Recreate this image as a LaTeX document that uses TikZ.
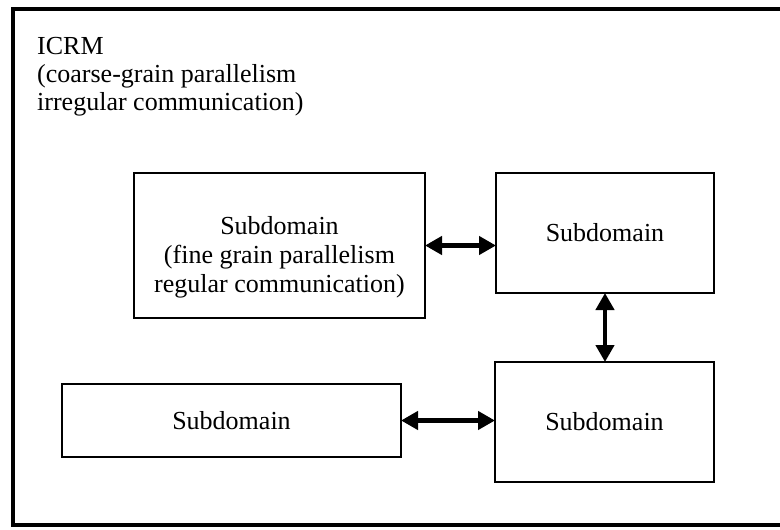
\documentclass[tikz,border=0pt]{standalone}
\usepackage{fontspec}
\setmainfont{Liberation Serif}
\usetikzlibrary{arrows.meta}
\begin{document}
\begin{tikzpicture}[x=1pt,y=-1pt,
  frame/.style={line width=4.5pt, line join=miter},
  box/.style={draw, line width=2.2pt, inner sep=0pt, outer sep=0pt},
  txt/.style={inner sep=0pt, font=\fontsize{26}{29}\selectfont},
  dbl/.style={line width=4.5pt, {Triangle[length=17pt,width=18pt]}-{Triangle[length=17pt,width=18pt]}}]
\useasboundingbox (0,0) rectangle (780,530);
\fill[white] (0,0) rectangle (780,530);
% outer frame (right side cut off)
\coordinate (ftr) at (780,9);
\coordinate (ftl) at (13,9);
\coordinate (fbl) at (13,525);
\coordinate (fbr) at (780,525);
\draw[frame] (ftr) -- (ftl) -- (fbl) -- (fbr);
% title
\node[txt, align=left, anchor=north west, font=\fontsize{26}{28}\selectfont] (title) at (37,37.5)
  {ICRM\\(coarse-grain parallelism\\irregular communication)};
% boxes
\node[box, minimum width=291pt, minimum height=145pt] (A) at (279.5,245.5) {};
\node[txt, align=center] (At) at ([yshift=-12pt]A.center)
  {Subdomain\\(fine grain parallelism\\regular communication)};
\node[box, minimum width=218pt, minimum height=120pt] (B) at (605,233) {};
\node[txt] (Bt) at (B.center) {Subdomain};
\node[box, minimum width=219pt, minimum height=120pt] (C) at (604.5,422) {};
\node[txt] (Ct) at (C.center) {Subdomain};
\node[box, minimum width=339pt, minimum height=73pt] (D) at (231.5,420.5) {};
\node[txt] (Dt) at (D.center) {Subdomain};
% connectors
\draw[dbl] (A.east) -- (A.east -| B.west);
\draw[dbl] (B.south) -- (B.south |- C.north);
\draw[dbl] (D.east) -- (D.east -| C.west);
\end{tikzpicture}
\end{document}
